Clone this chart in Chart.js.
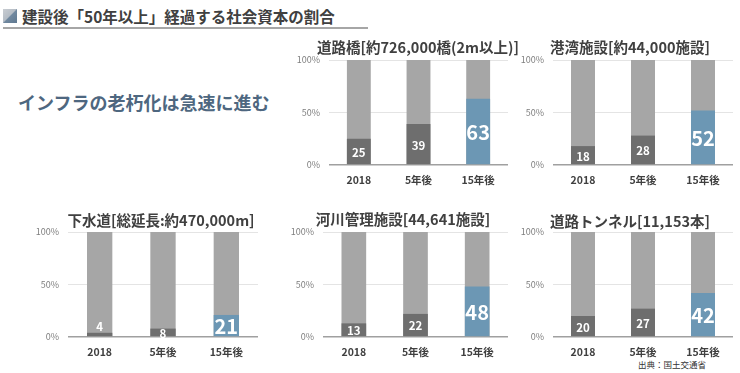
<!DOCTYPE html>
<html>
<head>
<meta charset="utf-8">
<script src="https://cdn.jsdelivr.net/npm/chart.js@4.4.1/dist/chart.umd.min.js"></script>
<style>
  html, body { margin:0; padding:0; background:#ffffff; }
  body { width:740px; height:373px; position:relative; overflow:hidden; font-family:'Noto Sans CJK JP', sans-serif; }
  canvas { position:absolute; }
  #icon { position:absolute; left:3px; top:9px; width:14px; height:14px;
          background:linear-gradient(135deg, #c9cdd2 0%, #b4bcc5 48%, #7189a0 52%, #5f7890 100%); }
  #head { position:absolute; left:22px; top:5px; font-size:15.5px; font-weight:bold; color:#404040; line-height:22px; white-space:nowrap; }
  #rule { position:absolute; left:3px; top:27px; width:365px; height:2px; background:#a6a6a6; }
  #lead { position:absolute; left:18px; top:89px; font-size:18px; font-weight:bold; color:#4e6780; line-height:26px; white-space:nowrap; }
  #src { position:absolute; left:638px; top:358px; font-size:8.5px; color:#333; line-height:12px; white-space:nowrap; }
</style>
</head>
<body>
<div id="icon"></div>
<div id="head">建設後「50年以上」経過する社会資本の割合</div>
<div id="rule"></div>
<div id="lead">インフラの老朽化は急速に進む</div>
<div id="src">出典：国土交通省</div>

<canvas id="c1"></canvas>
<canvas id="c2"></canvas>
<canvas id="c3"></canvas>
<canvas id="c4"></canvas>
<canvas id="c5"></canvas>

<script>
// ---- data ----
const categories = ['2018', '5年後', '15年後'];
const yTicks = [0, 50, 100];
const fullBar = [100, 100, 100];
const bridgeTitle = '道路橋[約726,000橋(2m以上)]';
const bridgeValues = [25, 39, 63];
const portTitle = '港湾施設[約44,000施設]';
const portValues = [18, 28, 52];
const sewerTitle = '下水道[総延長:約470,000m]';
const sewerValues = [4, 8, 21];
const riverTitle = '河川管理施設[44,641施設]';
const riverValues = [13, 22, 48];
const tunnelTitle = '道路トンネル[11,153本]';
const tunnelValues = [20, 27, 42];

// ---- styling ----
const FONT = "'Noto Sans CJK JP', sans-serif";
Chart.defaults.font.family = FONT;
const COL_BG = '#a6a6a6';
const COL_DARK = '#6e6e6e';
const COL_BLUE = '#6c97b4';

const labelPlugin = {
  id: 'barValues',
  afterDatasetsDraw(chart) {
    const meta = chart.getDatasetMeta(0);
    const ds = chart.data.datasets[0];
    const ctx = chart.ctx;
    ctx.save();
    ctx.fillStyle = '#ffffff';
    ctx.textAlign = 'center';
    ctx.textBaseline = 'middle';
    meta.data.forEach((el, i) => {
      const v = ds.data[i];
      const big = i === ds.data.length - 1;
      ctx.font = (big ? 'bold 20px ' : 'bold 11.5px ') + FONT;
      const h = el.base - el.y;
      let y = (el.y + el.base) / 2 + 1;
      if (h < 6) y = el.y - 6;
      ctx.fillText(String(v), el.x, y);
    });
    ctx.restore();
  }
};

function makeChart(id, title, values, g) {
  const yW = 40;
  const left = g.plotL - yW;
  const E = Math.max(2 * g.titleX - g.plotL + yW - g.plotR, 2);
  const right = g.plotR + E;
  const width = right - left;
  const top = Math.round(g.titleY - 14);
  const titlePT = g.titleY - top - 8.7;
  const titlePB = g.plotT - g.titleY - 8.7;
  const xH = 30;
  const height = Math.round(g.plotB + xH - top);
  const cv = document.getElementById(id);
  cv.width = width; cv.height = height;
  cv.style.left = left + 'px'; cv.style.top = top + 'px';
  cv.style.width = width + 'px'; cv.style.height = height + 'px';

  new Chart(cv, {
    type: 'bar',
    data: {
      labels: categories,
      datasets: [
        { data: values, backgroundColor: values.map((v, i) => i === values.length - 1 ? COL_BLUE : COL_DARK),
          barPercentage: 0.4, categoryPercentage: 1, grouped: false },
        { data: fullBar, backgroundColor: COL_BG,
          barPercentage: 0.4, categoryPercentage: 1, grouped: false }
      ]
    },
    options: {
      responsive: false,
      animation: false,
      devicePixelRatio: 1,
      layout: { padding: 0 },
      plugins: {
        legend: { display: false },
        tooltip: { enabled: false },
        title: { display: true, text: title, color: '#404040',
                 font: { size: 14.5, weight: 'bold', family: FONT, lineHeight: 1.2 },
                 padding: { top: titlePT, bottom: titlePB } }
      },
      scales: {
        x: {
          grid: { display: false, drawTicks: false },
          border: { display: false },
          ticks: { color: '#404040', font: { size: 10.5, weight: 'bold', family: FONT }, padding: 8.7 },
          afterFit: s => { s.height = xH; }
        },
        y: {
          min: 0, max: 100,
          afterBuildTicks: s => { s.ticks = yTicks.map(v => ({ value: v })); },
          grid: { drawTicks: false,
                  color: c => c.tick && c.tick.value === 0 ? '#a0a0a0' : '#e4e4e4',
                  lineWidth: c => c.tick && c.tick.value === 0 ? 1.5 : 1 },
          border: { display: false },
          ticks: { color: '#7f7f7f', font: { size: 9, family: FONT }, padding: 9,
                   callback: v => v + '%' },
          afterFit: s => { s.width = yW; }
        },
        y2: {
          type: 'linear', position: 'right', display: true,
          grid: { display: false, drawTicks: false },
          border: { display: false },
          ticks: { display: false },
          afterFit: s => { s.width = E; }
        }
      }
    },
    plugins: [labelPlugin]
  });
}

makeChart('c1', bridgeTitle, bridgeValues, { plotL: 329, plotR: 508, plotT: 60, plotB: 165, titleY: 47, titleX: 418 });
makeChart('c2', portTitle, portValues,     { plotL: 553, plotR: 733, plotT: 60, plotB: 165, titleY: 47, titleX: 630 });
makeChart('c3', sewerTitle, sewerValues,   { plotL: 68,  plotR: 258, plotT: 232, plotB: 337, titleY: 220, titleX: 161 });
makeChart('c4', riverTitle, riverValues,   { plotL: 323, plotR: 508, plotT: 232, plotB: 337, titleY: 219, titleX: 403 });
makeChart('c5', tunnelTitle, tunnelValues, { plotL: 553, plotR: 733, plotT: 232, plotB: 337, titleY: 221, titleX: 630 });
</script>
</body>
</html>
